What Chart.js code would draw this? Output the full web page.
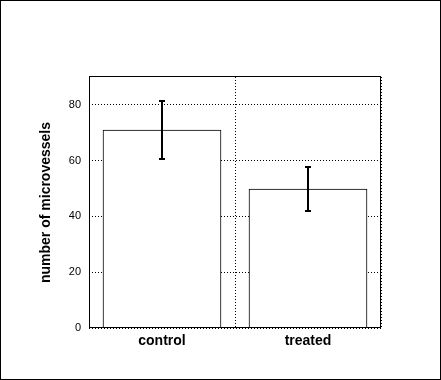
<!DOCTYPE html>
<html>
<head>
<meta charset="utf-8">
<script src="https://cdn.jsdelivr.net/npm/chart.js@4/dist/chart.umd.min.js"></script>
<style>
html,body{margin:0;padding:0;background:#fff;}
#wrap{width:441px;height:380px;position:relative;}
</style>
</head>
<body>
<div id="wrap"><canvas id="c" width="441" height="380"></canvas></div>
<script>
const categories = ['control', 'treated'];
const means = [71, 49.8];
const errors = [10.5, 7.8];
const yTicks = [0, 20, 40, 60, 80];
const yMax = 90;
const yTitle = 'number of microvessels';

const errorBars = {
  id: 'errorBars',
  afterDatasetsDraw(chart) {
    const ctx = chart.ctx;
    const meta = chart.getDatasetMeta(0);
    const y = chart.scales.y;
    ctx.save();
    ctx.strokeStyle = '#000';
    ctx.lineWidth = 2;
    meta.data.forEach((bar, i) => {
      const x = Math.round(bar.x);
      const top = Math.round(y.getPixelForValue(means[i] + errors[i]));
      const bot = Math.round(y.getPixelForValue(means[i] - errors[i]));
      ctx.beginPath();
      ctx.moveTo(x, top); ctx.lineTo(x, bot);
      ctx.moveTo(x - 3, top); ctx.lineTo(x + 3, top);
      ctx.moveTo(x - 3, bot); ctx.lineTo(x + 3, bot);
      ctx.stroke();
    });
    ctx.restore();
  }
};

const frame = {
  id: 'frame',
  afterDraw(chart) {
    const ctx = chart.ctx;
    const a = chart.chartArea;
    ctx.save();
    ctx.strokeStyle = '#000';
    ctx.lineWidth = 1;
    ctx.strokeRect(Math.round(a.left) + 0.5, Math.round(a.top) - 0.5, Math.round(a.right - a.left) - 1, Math.round(a.bottom - a.top));
    ctx.strokeRect(0.5, 0.5, chart.width - 1, chart.height - 1);
    ctx.restore();
  }
};

const bgPlugin = {
  id: 'bg',
  beforeDraw(chart) {
    const ctx = chart.ctx;
    ctx.save();
    ctx.fillStyle = '#fff';
    ctx.fillRect(0, 0, chart.width, chart.height);
    ctx.restore();
  }
};

new Chart(document.getElementById('c'), {
  type: 'bar',
  data: {
    labels: categories,
    datasets: [{
      data: means,
      backgroundColor: '#fff',
      borderColor: '#000',
      borderWidth: 1,
      barThickness: 118
    }]
  },
  options: {
    responsive: false,
    animation: false,
    devicePixelRatio: 1,
    layout: { padding: { top: 77, right: 60, left: 0, bottom: 0 } },
    plugins: { legend: { display: false }, tooltip: { enabled: false } },
    scales: {
      x: {
        afterFit(s) { s.height = 52; },
        grid: { color: '#000', lineWidth: 1, drawTicks: false, offset: true },
        border: { display: false, dash: [1, 2] },
        ticks: {
          color: '#000',
          padding: 5,
          font: { family: 'Liberation Sans, Arial, sans-serif', size: 14, weight: 'bold' }
        }
      },
      y: {
        min: 0,
        max: yMax,
        afterFit(s) { s.width = 89; },
        afterBuildTicks(s) { s.ticks = yTicks.map(v => ({ value: v })); },
        grid: { color: '#000', lineWidth: 1, drawTicks: false },
        border: { display: false, dash: [1, 2] },
        ticks: {
          color: '#000',
          padding: 8,
          font: { family: 'Liberation Sans, Arial, sans-serif', size: 11 }
        },
        title: {
          display: true,
          text: yTitle,
          color: '#000',
          padding: { top: 38, bottom: 0 },
          font: { family: 'Liberation Sans, Arial, sans-serif', size: 14, weight: 'bold' }
        }
      }
    }
  },
  plugins: [bgPlugin, errorBars, frame]
});
</script>
</body>
</html>
